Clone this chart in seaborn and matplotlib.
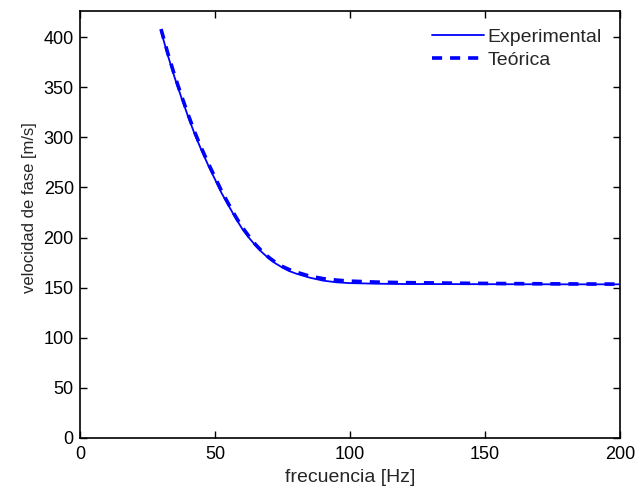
import matplotlib
matplotlib.use("Agg")
import matplotlib.pyplot as plt
import seaborn as sns
import pandas as pd

freq = [30, 32.5, 35, 37.5, 40, 42.5, 45, 47.5, 50, 52.5, 55, 57.5, 60, 62.5, 65,
        67.5, 70, 72.5, 75, 77.5, 80, 85, 90, 95, 100, 110, 120, 140, 160, 180, 200]
vel_exp = [406, 382, 360, 340, 321, 303, 287, 272, 258, 244, 232, 220, 209, 200, 192,
           185, 179, 174, 170, 166.5, 164, 160, 157, 155.3, 154.5, 153.9, 153.6, 153.5,
           153.4, 153.3, 153.3]
vel_teo = [408, 384, 362, 342, 323, 305, 289, 274, 260, 246, 233.5, 221.5, 210.5, 201.5, 193,
           186, 180, 175, 171, 168, 165.5, 161.5, 159, 157.5, 156.5, 155.5, 155, 154.4,
           154, 153.7, 153.5]

sns.set_style("ticks")
plt.rcParams['font.family'] = ['Liberation Sans', 'DejaVu Sans']

df_exp = pd.DataFrame({"f": freq, "v": vel_exp})
df_teo = pd.DataFrame({"f": freq, "v": vel_teo})

fig = plt.figure(figsize=(6.38, 4.88), dpi=100)
ax = fig.add_axes([0.1254, 0.1025, 0.9718 - 0.1254, 0.9775 - 0.1025])

sns.lineplot(data=df_exp, x="f", y="v", ax=ax, color=(0, 0, 1), lw=1.3,
             label="Experimental")
sns.lineplot(data=df_teo, x="f", y="v", ax=ax, color=(0, 0, 1), lw=2.6,
             linestyle=(0, (2.8, 2.2)), label="Teórica")

ax.set_xlim(0, 200)
ax.set_ylim(0, 426)
ax.set_xticks([0, 50, 100, 150, 200])
ax.set_yticks(range(0, 401, 50))
ax.tick_params(direction="in", top=True, right=True, length=5, width=1,
               labelsize=13, colors="black")
ax.tick_params(axis="x", pad=6)
ax.tick_params(axis="y", pad=4.5)
for s in ax.spines.values():
    s.set_linewidth(1.2)
    s.set_color("black")
ax.set_xlabel("frecuencia [Hz]", fontsize=14)
ax.set_ylabel("velocidad de fase [m/s]", fontsize=12)
ax.xaxis.set_label_coords(0.5, -0.072)
ax.yaxis.set_label_coords(-0.080, 0.539)

leg = ax.legend(loc="upper right", bbox_to_anchor=(0.966, 0.96), frameon=False,
                fontsize=14, handlelength=2.7, handletextpad=0.15, borderpad=0,
                borderaxespad=0, labelspacing=0.3)

fig.savefig("out.png", dpi=100)
